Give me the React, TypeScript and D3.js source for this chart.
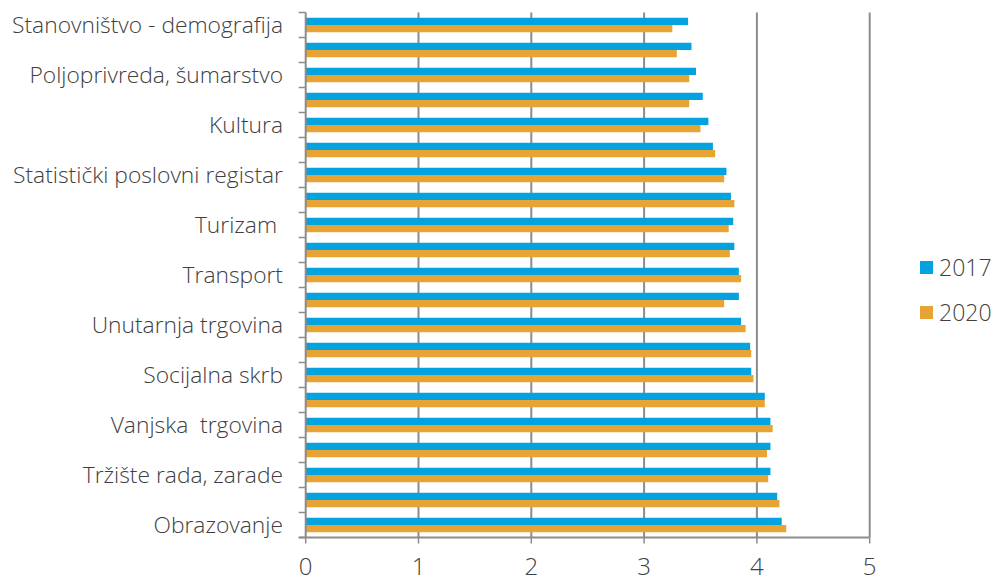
import React from "react";
import * as d3 from "d3";

const categories: string[] = [
  "Stanovništvo - demografija", "",
  "Poljoprivreda, šumarstvo", "",
  "Kultura", "",
  "Statistički poslovni registar", "",
  "Turizam ", "",
  "Transport", "",
  "Unutarnja trgovina", "",
  "Socijalna skrb", "",
  "Vanjska  trgovina", "",
  "Tržište rada, zarade", "",
  "Obrazovanje",
];
const values2017: number[] = [
  3.39, 3.42, 3.46, 3.52, 3.57, 3.61, 3.73, 3.77, 3.79, 3.80, 3.84,
  3.84, 3.86, 3.94, 3.95, 4.07, 4.12, 4.12, 4.12, 4.18, 4.22,
];
const values2020: number[] = [
  3.25, 3.29, 3.40, 3.40, 3.50, 3.63, 3.71, 3.80, 3.75, 3.76, 3.86,
  3.71, 3.90, 3.95, 3.97, 4.07, 4.14, 4.09, 4.10, 4.20, 4.26,
];
const seriesNames: string[] = ["2017", "2020"];
const xTicks: number[] = [0, 1, 2, 3, 4, 5];
const colors: string[] = ["#04A2DF", "#E7A434"];

const W = 992;
const H = 575;
const left = 305.7;
const right = 869.7;
const top = 12.5;
const bottom = 537.5;
const font = "'Open Sans', 'Noto Sans', sans-serif";
const textColor = "#404040";
const axisColor = "#8c8c8c";

export default function App() {
  const x = d3.scaleLinear().domain([0, 5]).range([left, right]);
  const idx = categories.map((_, i) => String(i));
  const y = d3.scaleBand<string>().domain(idx).range([top, bottom]).paddingInner(0.42).paddingOuter(0.21);
  const inner = d3.scaleBand<string>().domain(seriesNames).range([0, y.bandwidth()]);
  const step = y.step();
  const series = [values2017, values2020];

  return (
    <svg width={W} height={H} style={{ position: "absolute", left: 0, top: 0, background: "#fff" }}>
      {xTicks.slice(1).map((t) => (
        <line key={"g" + t} x1={x(t)} x2={x(t)} y1={top} y2={bottom} stroke={axisColor} strokeWidth={2} />
      ))}
      {categories.map((_, i) =>
        series.map((vals, s) => (
          <rect
            key={i + "-" + s}
            x={x(0)}
            y={(y(String(i)) as number) + (inner(seriesNames[s]) as number)}
            width={x(vals[i]) - x(0)}
            height={inner.bandwidth()}
            fill={colors[s]}
          />
        ))
      )}
      <line x1={left} x2={left} y1={top} y2={bottom} stroke={axisColor} strokeWidth={2} />
      {d3.range(categories.length + 1).map((k) => (
        <line key={"lt" + k} x1={left - 7} x2={left} y1={top + k * step} y2={top + k * step} stroke={axisColor} strokeWidth={1.5} />
      ))}
      <line x1={left - 7} x2={right} y1={bottom} y2={bottom} stroke={axisColor} strokeWidth={2} />
      {xTicks.map((t) => (
        <g key={"xt" + t}>
          <line x1={x(t)} x2={x(t)} y1={bottom} y2={bottom + 6} stroke={axisColor} strokeWidth={1.5} />
          <text x={x(t)} y={574.5} textAnchor="middle" fontFamily={font} fontSize={24} fontWeight={300} fill={textColor}>
            {t}
          </text>
        </g>
      ))}
      {categories.map((c, i) =>
        c ? (
          <text
            key={"c" + i}
            x={283}
            y={(y(String(i)) as number) + y.bandwidth() / 2}
            dy="0.36em"
            textAnchor="end"
            fontFamily={font}
            fontSize={22.8}
            fontWeight={300}
            fill={textColor}
            style={{ whiteSpace: "pre" }}
          >
            {c}
          </text>
        ) : null
      )}
      {seriesNames.map((n, s) => (
        <g key={"lg" + n} transform={`translate(920, ${261 + s * 45})`}>
          <rect x={0} y={0} width={13} height={13} fill={colors[s]} />
          <text x={19} y={6.5} dy="0.36em" fontFamily={font} fontSize={23} fontWeight={300} fill={textColor}>
            {n}
          </text>
        </g>
      ))}
    </svg>
  );
}
